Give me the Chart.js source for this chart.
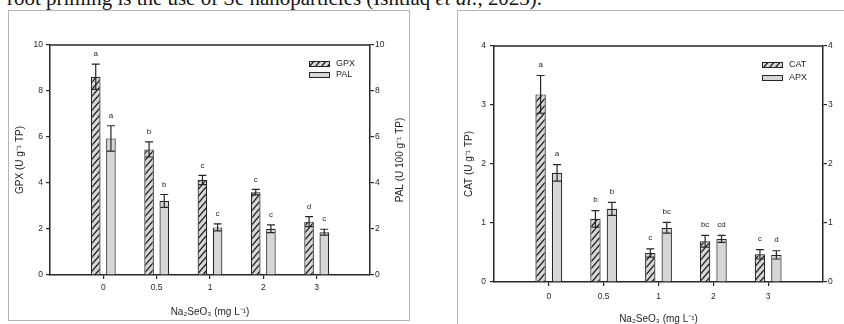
<!DOCTYPE html>
<html>
<head>
<meta charset="utf-8">
<script src="https://cdn.jsdelivr.net/npm/chart.js@4/dist/chart.umd.min.js"></script>
<style>
  html, body { margin: 0; padding: 0; background: #fff; width: 844px; height: 324px; overflow: hidden; position: relative; }
  #caption { position: absolute; left: 7px; top: -10px; font-family: "Liberation Serif", "Times New Roman", serif;
             font-size: 18px; line-height: 18px; white-space: nowrap; color: #151515; }
  .panel { position: absolute; border: 1px solid #b4b4b4; background: #fff; }
  #p1 { left: 8px; top: 10px; width: 400px; height: 309px; }
  #p2 { left: 457px; top: 10px; width: 400px; height: 318px; }
  canvas { display: block; }
</style>
</head>
<body>
<div id="caption">root priming is the use of Se nanoparticles (Ishtiaq <i>et al.</i>, 2023).</div>
<div class="panel" id="p1"><canvas id="c1" width="400" height="309"></canvas></div>
<div class="panel" id="p2"><canvas id="c2" width="400" height="318"></canvas></div>
<script>
// Na2SeO3 doses (mg L-1)
const doses = ['0', '0.5', '1', '2', '3'];

// Glutathione peroxidase (U g-1 TP): means, standard errors, significance letters
const gpxMean = [8.62, 5.46, 4.13, 3.60, 2.32];
const gpxErr  = [0.55, 0.33, 0.20, 0.12, 0.22];
const gpxSig  = ['a', 'b', 'c', 'c', 'd'];

// Phenylalanine ammonia-lyase (U 100 g-1 TP)
const palMean = [5.94, 3.22, 2.07, 2.01, 1.86];
const palErr  = [0.55, 0.28, 0.15, 0.17, 0.13];
const palSig  = ['a', 'b', 'c', 'c', 'c'];

// Catalase (U g-1 TP)
const catMean = [3.18, 1.07, 0.49, 0.69, 0.47];
const catErr  = [0.32, 0.14, 0.07, 0.10, 0.08];
const catSig  = ['a', 'b', 'c', 'bc', 'c'];

// Ascorbate peroxidase (U g-1 TP)
const apxMean = [1.85, 1.24, 0.92, 0.73, 0.46];
const apxErr  = [0.14, 0.11, 0.09, 0.06, 0.07];
const apxSig  = ['a', 'b', 'bc', 'cd', 'd'];

const FONT = '"Liberation Sans", Arial, sans-serif';
const INK = '#262626';
const GREY = '#d6d6d6';

// diagonal hatch fill for the first series of each panel
function hatchPattern() {
  const w = 6, h = 7;
  const c = document.createElement('canvas');
  c.width = w; c.height = h;
  const g = c.getContext('2d');
  g.fillStyle = GREY;
  g.fillRect(0, 0, w, h);
  g.strokeStyle = '#1a1a1a';
  g.lineWidth = 1.2;
  g.beginPath();
  for (let k = -1; k <= 1; k++) {
    g.moveTo(k * w - w, 2 * h);
    g.lineTo(k * w + 2 * w, -h);
  }
  g.stroke();
  return g.createPattern(c, 'repeat');
}
const HATCH = hatchPattern();

// error bars, significance letters, top frame line, right-axis title and inset legend
const decorations = {
  id: 'decorations',
  afterDatasetsDraw(chart) {
    const ctx = chart.ctx;
    const area = chart.chartArea;
    const extra = chart.options.plugins.decorations;
    ctx.save();
    // frame top
    ctx.strokeStyle = INK;
    ctx.lineWidth = 1.5;
    ctx.beginPath();
    ctx.moveTo(area.left, area.top);
    ctx.lineTo(area.right, area.top);
    ctx.stroke();

    chart.data.datasets.forEach((ds, di) => {
      const meta = chart.getDatasetMeta(di);
      const ys = chart.scales[meta.yAxisID];
      meta.data.forEach((bar, i) => {
        const v = ds.data[i].y, e = ds.errors[i];
        const yt = ys.getPixelForValue(v + e);
        const yb = ys.getPixelForValue(v - e);
        const cap = 4;
        ctx.strokeStyle = INK;
        ctx.lineWidth = 1.2;
        ctx.beginPath();
        ctx.moveTo(bar.x, yt); ctx.lineTo(bar.x, yb);
        ctx.moveTo(bar.x - cap, yt); ctx.lineTo(bar.x + cap, yt);
        ctx.moveTo(bar.x - cap, yb); ctx.lineTo(bar.x + cap, yb);
        ctx.stroke();
        ctx.fillStyle = INK;
        ctx.font = '8px ' + FONT;
        ctx.textAlign = 'center';
        ctx.textBaseline = 'middle';
        ctx.fillText(ds.letters[i], bar.x, yt - extra.letterGap);
      });
    });

    // right-axis title, reading upwards like the left one
    ctx.save();
    ctx.translate(extra.rightTitleX, (area.top + area.bottom) / 2);
    ctx.rotate(-Math.PI / 2);
    ctx.fillStyle = INK;
    ctx.font = '10px ' + FONT;
    ctx.textAlign = 'center';
    ctx.textBaseline = 'middle';
    ctx.fillText(extra.rightTitle, 0, 0);
    ctx.restore();

    // legend
    const lx = area.right - 61, sw = 21, sh = 5;
    chart.data.datasets.forEach((ds, di) => {
      const y = area.top + 16 + di * extra.legendStep;
      ctx.fillStyle = ds.backgroundColor;
      ctx.fillRect(lx, y, sw, sh);
      ctx.strokeStyle = INK;
      ctx.lineWidth = 1;
      ctx.strokeRect(lx + 0.5, y + 0.5, sw - 1, sh);
      ctx.fillStyle = INK;
      ctx.font = '9px ' + FONT;
      ctx.textAlign = 'left';
      ctx.textBaseline = 'middle';
      ctx.fillText(ds.label, lx + sw + 6, y + sh / 2 + 0.5);
    });
    ctx.restore();
  }
};

function yAxis(pos, max, step, title, width, titlePad, tickPad) {
  return {
    type: 'linear', position: pos, min: 0, max: max,
    afterFit: s => { s.width = width; },
    ticks: { stepSize: step, color: INK, padding: tickPad, font: { family: FONT, size: 8.5 } },
    grid: { drawOnChartArea: false, tickLength: 4, color: INK, lineWidth: 1.2 },
    border: { display: true, color: INK, width: 1.5 },
    title: { display: title !== null, text: title || '', color: INK, padding: { top: titlePad, bottom: 0 },
             font: { family: FONT, size: 10 } }
  };
}

function panel(canvasId, cfg) {
  const toPts = arr => arr.map((v, i) => ({ x: i, y: v }));
  return new Chart(document.getElementById(canvasId), {
    type: 'bar',
    data: {
      datasets: [
        { label: cfg.names[0], data: toPts(cfg.means[0]), errors: cfg.errs[0], letters: cfg.sigs[0],
          yAxisID: 'y', backgroundColor: HATCH, borderColor: INK, borderWidth: 1.2,
          categoryPercentage: cfg.catPct, barPercentage: 0.63 },
        { label: cfg.names[1], data: toPts(cfg.means[1]), errors: cfg.errs[1], letters: cfg.sigs[1],
          yAxisID: 'y2', backgroundColor: GREY, borderColor: INK, borderWidth: 1.2,
          categoryPercentage: cfg.catPct, barPercentage: 0.63 }
      ]
    },
    options: {
      responsive: false,
      animation: false,
      devicePixelRatio: 1,
      layout: { padding: { top: cfg.top, left: 0, right: 0, bottom: 0 } },
      plugins: {
        legend: { display: false },
        tooltip: { enabled: false },
        decorations: { letterGap: cfg.letterGap, legendStep: cfg.legendStep,
                       rightTitle: cfg.titles[1], rightTitleX: cfg.rightTitleX }
      },
      scales: {
        x: {
          type: 'linear', min: -1, max: 5, offset: false,
          afterBuildTicks: s => { s.ticks = doses.map((d, i) => ({ value: i })); },
          afterFit: s => { s.height = cfg.xHeight; },
          ticks: { color: INK, padding: cfg.xTickPad, font: { family: FONT, size: 8.5 },
                   callback: v => doses[v] },
          grid: { display: true, drawOnChartArea: false, offset: false, tickLength: 4, color: INK, lineWidth: 1.2 },
          border: { display: true, color: INK, width: 1.5 },
          title: { display: true, text: 'Na\u2082SeO\u2083 (mg L\u207B\u00B9)', color: INK,
                   padding: { top: 0, bottom: cfg.xTitlePad }, font: { family: FONT, size: 10 } }
        },
        y: yAxis('left', cfg.max, cfg.step, cfg.titles[0], cfg.yWidth, cfg.yTitlePad, cfg.yTickPad),
        y2: yAxis('right', cfg.max, cfg.step, null, cfg.y2Width, 0, cfg.y2TickPad)
      }
    },
    plugins: [decorations]
  });
}

panel('c1', {
  names: ['GPX', 'PAL'], means: [gpxMean, palMean], errs: [gpxErr, palErr], sigs: [gpxSig, palSig],
  titles: ['GPX (U g\u207B\u00B9 TP)', 'PAL (U 100 g\u207B\u00B9 TP)'],
  max: 10, step: 2, catPct: 0.57, top: 34, xHeight: 45,
  yWidth: 41, y2Width: 39, yTitlePad: 5, yTickPad: 3, y2TickPad: 1, rightTitleX: 391,
  xTickPad: 4, xTitlePad: 2, letterGap: 10, legendStep: 11
});

panel('c2', {
  names: ['CAT', 'APX'], means: [catMean, apxMean], errs: [catErr, apxErr], sigs: [catSig, apxSig],
  titles: ['CAT (U g\u207B\u00B9 TP)', 'APX (U g\u207B\u00B9 TP)'],
  max: 4, step: 1, catPct: 0.6, top: 35, xHeight: 47,
  yWidth: 36, y2Width: 35, yTitlePad: 5, yTickPad: 4, y2TickPad: 1, rightTitleX: 393,
  xTickPad: 6, xTitlePad: 4, letterGap: 11, legendStep: 13
});

// fit the running text line to its column width
(function () {
  const cap = document.getElementById('caption');
  const target = 535;
  const w = cap.getBoundingClientRect().width;
  const size = 18 * target / w;
  cap.style.fontSize = size.toFixed(2) + 'px';
  cap.style.lineHeight = size.toFixed(2) + 'px';
  cap.style.top = (5 - 0.8375 * size).toFixed(1) + 'px';
})();
</script>
</body>
</html>
